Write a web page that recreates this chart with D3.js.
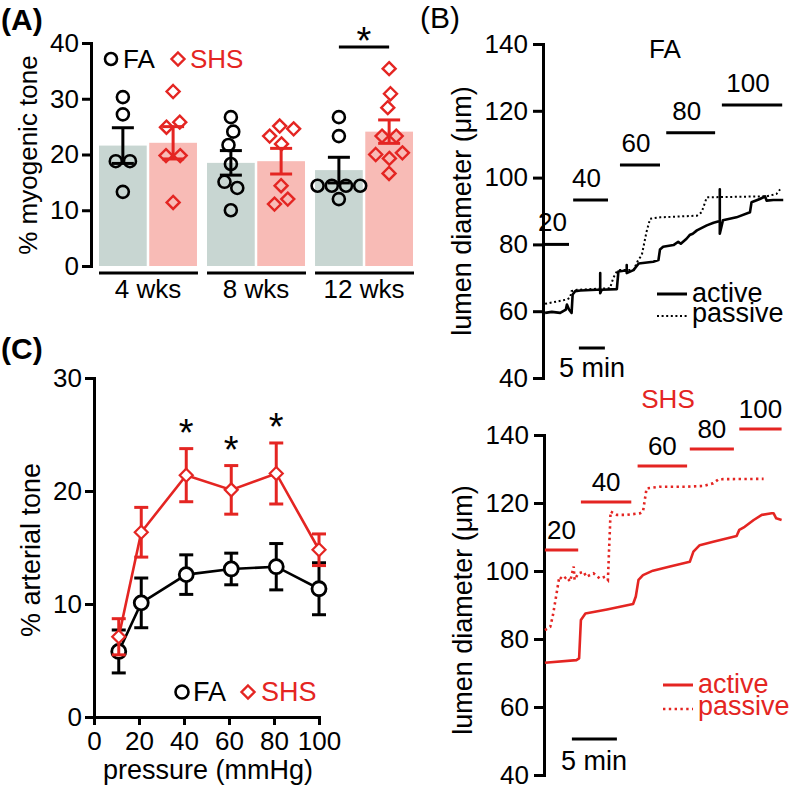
<!DOCTYPE html>
<html><head><meta charset="utf-8">
<script src="https://cdn.jsdelivr.net/npm/d3@7"></script>
<style>body{margin:0;background:#fff}svg{display:block}</style>
</head><body><svg id="c" width="793" height="790"></svg>
<script>
// ---------- DATA ----------
// Panel A
const weeks = ["4 wks", "8 wks", "12 wks"];
const groups = ["FA", "SHS"];
const faMean = [21.6, 18.5, 17.2];
const faSem = [3.2, 2.2, 2.3];
const shsMean = [22.1, 18.8, 24.1];
const shsSem = [2.9, 2.3, 2.1];
const faPoints = [[30.3, 27.2, 18.8, 18.8, 13.3], [26.7, 24.1, 21.7, 18.3, 15.1, 14.0, 10.0], [26.7, 23.3, 14.4, 14.4, 14.4, 14.4, 12.0]];
const shsPoints = [[31.3, 25.8, 24.9, 19.8, 19.8, 11.4], [25.1, 24.6, 23.3, 21.9, 14.4, 12.0, 11.1], [35.4, 30.9, 28.4, 23.3, 23.3, 20.3, 20.0, 19.3, 16.6]];
const toneTicksA = [0, 10, 20, 30, 40];
const sigWeekA = ["12 wks"];

// Panel C
const pressures = [11, 21, 41, 61, 81, 100];
const faTone = [5.8, 10.1, 12.6, 13.1, 13.3, 11.35];
const faToneSem = [1.9, 2.2, 1.75, 1.4, 2.05, 2.3];
const shsTone = [7.1, 16.35, 21.4, 20.1, 21.55, 14.8];
const shsToneSem = [1.6, 2.2, 2.35, 2.15, 2.7, 1.4];
const sigPressC = [41, 61, 81];
const pressTicksC = [0, 20, 40, 60, 80, 100];
const toneTicksC = [0, 10, 20, 30];

// Panel B  ([minutes, lumen diameter µm])
const diamTicks = [40, 60, 80, 100, 120, 140];
const stepLabels = ["20", "40", "60", "80", "100"];
const faStepStart = [0.2, 5.8, 14.8, 23.7, 34.4];
const faStepEnd = [5.0, 12.5, 22.5, 33.1, 46.0];
const faStepLevel = [80, 93.3, 103.8, 113.4, 121.7];
const shsStepStart = [0.1, 4.1, 10.4, 16.2, 21.7];
const shsStepEnd = [3.8, 9.7, 15.9, 21.1, 26.4];
const shsStepLevel = [106.2, 120.3, 130.9, 135.9, 141.8];
const faActive = [[0.4,59.5],[1.7,59.8],[3.3,59.5],[4.4,60.5],[4.6,62],[5.0,60.5],[5.5,59.5],[5.7,65],[6.2,66],[7.2,66.2],[10.3,66.4],[11.0,66.4],[11.0,71.4],[11.0,65.4],[11.3,66.4],[14.2,66.6],[14.5,71.9],[15.5,72.1],[16.1,72.3],[16.1,73.8],[16.1,71.4],[17.4,72.3],[18.4,74.3],[21.2,74.8],[22.2,75.3],[22.5,78.5],[23.1,79.3],[25.1,79.8],[26.0,80.8],[26.5,80.2],[27.6,81.7],[28.2,82.8],[28.8,83.2],[29.6,84.2],[31.5,85.7],[32.8,86.5],[34.0,87],[34.0,96.5],[34.0,83.2],[34.6,87.2],[37.2,88.1],[39.8,89.6],[40.1,92.6],[41.7,93.6],[42.4,94.1],[42.7,94.4],[43.0,93.1],[44.3,93.3],[46.2,93.3]];
const faPassive = [[0.4,62.2],[4.6,63.5],[5.2,64],[5.5,66],[6.5,66.4],[12.9,66.9],[13.5,69.9],[14.2,71.9],[14.8,72.3],[17.4,72.3],[18.3,75.3],[19.0,76.8],[19.9,83.7],[20.6,87.7],[22.5,88.1],[29.6,88.6],[30.5,89.6],[31.5,94.1],[43.0,94.4],[44.9,95.1],[45.6,96.5]];
const shsActive = [[0.1,73.0],[3.6,73.8],[3.9,74.3],[4.1,85.6],[4.6,87.5],[7.0,88.7],[9.9,90.3],[10.2,92.5],[10.5,97.4],[11.0,98.8],[12.1,100.1],[14.0,101.3],[16.2,102.7],[16.6,105.7],[17.3,107.6],[18.8,108.6],[21.4,110.3],[21.7,112.1],[22.3,113.0],[23.3,115],[24.2,116.5],[25.3,117],[25.5,117],[25.8,115.5],[26.4,115.0]];
const shsPassive = [[0.1,82.6],[0.7,83.6],[1.0,87.1],[1.4,93.4],[1.7,98.3],[2.1,97.4],[2.5,98.3],[2.9,96.9],[3.3,101.3],[3.4,97.4],[3.8,99.3],[4.4,99.8],[4.7,98.3],[5.5,99.3],[6.2,97.8],[6.8,98.3],[7.1,97.4],[7.4,117.5],[8.1,116.5],[9.2,116.5],[10.7,117],[11.0,117.5],[11.4,124.3],[12.9,124.8],[15.9,124.8],[17.7,125],[18.8,125.8],[19.4,127],[24.4,127.1]];

// ---------- STYLE ----------
const FONT = "'Liberation Sans', Arial, Helvetica, sans-serif";
const RED = "#e42522";
const FA_BAR = "#c8d6d2";
const SHS_BAR = "#f8bbb6";
const svg = d3.select("#c").attr("font-family", FONT);

function styleAxis(g, fs) {
  g.attr("font-family", FONT).attr("font-size", fs);
  g.select(".domain").attr("stroke", "#000").attr("stroke-width", 3).attr("stroke-linecap", "square");
  g.selectAll(".tick line").attr("stroke", "#000").attr("stroke-width", 3);
  g.selectAll(".tick text").attr("fill", "#000");
}
const diamond = s => `M0,${-s}L${s},0L0,${s}L${-s},0Z`;

function swarm(vals, cx, y, r) {
  const nodes = vals.map((v, i) => ({ v, x: cx + (i % 2 ? 1 : -1) * (0.3 + i * 0.4), y: y(v), fy: y(v) }));
  const sim = d3.forceSimulation(nodes)
    .force("x", d3.forceX(cx).strength(0.06))
    .force("c", d3.forceCollide(r + 0.6).iterations(4)).stop();
  for (let i = 0; i < 400; i++) sim.tick();
  return nodes;
}

// ---------- PANEL A ----------
{
  const yA = d3.scaleLinear().domain([0, 40]).range([266, 43]);
  const x0 = d3.scaleBand().domain(weeks).range([99, 413]).paddingInner(0.093);
  const x1 = d3.scaleBand().domain(groups).range([0, x0.bandwidth()]).paddingInner(0.05);
  const g = svg.append("g");
  const series = [
    { key: "FA", mean: faMean, sem: faSem, pts: faPoints, fill: FA_BAR, col: "#000" },
    { key: "SHS", mean: shsMean, sem: shsSem, pts: shsPoints, fill: SHS_BAR, col: RED }
  ];
  series.forEach(s => {
    weeks.forEach((w, i) => {
      const bx = x0(w) + x1(s.key);
      g.append("rect").attr("x", bx).attr("y", yA(s.mean[i]))
        .attr("width", x1.bandwidth()).attr("height", yA(0) - yA(s.mean[i])).attr("fill", s.fill);
    });
  });
  series.forEach(s => {
    weeks.forEach((w, i) => {
      const cx = x0(w) + x1(s.key) + x1.bandwidth() / 2;
      const nodes = swarm(s.pts[i], cx, yA, 6.5);
      nodes.forEach(n => {
        if (s.key === "FA") g.append("circle").attr("cx", n.x).attr("cy", n.y).attr("r", 6).attr("fill", "none").attr("stroke", "#000").attr("stroke-width", 2.6);
        else g.append("path").attr("d", diamond(6.5)).attr("transform", `translate(${n.x},${n.y})`).attr("fill", "none").attr("stroke", RED).attr("stroke-width", 2.4);
      });
      const lo = yA(s.mean[i] - s.sem[i]), hi = yA(s.mean[i] + s.sem[i]);
      g.append("line").attr("x1", cx).attr("x2", cx).attr("y1", lo).attr("y2", hi).attr("stroke", s.col).attr("stroke-width", 3);
      [lo, hi].forEach(yy => g.append("line").attr("x1", cx - 11).attr("x2", cx + 11).attr("y1", yy).attr("y2", yy).attr("stroke", s.col).attr("stroke-width", 3));
    });
  });
  g.append("g").attr("transform", "translate(91,0)")
    .call(d3.axisLeft(yA).tickValues(toneTicksA).tickSize(9).tickSizeOuter(0).tickPadding(3))
    .call(styleAxis, 26);
  weeks.forEach(w => {
    g.append("line").attr("x1", x0(w)).attr("x2", x0(w) + x0.bandwidth() + 1).attr("y1", 273).attr("y2", 273).attr("stroke", "#000").attr("stroke-width", 3);
    g.append("text").attr("x", x0(w) + x0.bandwidth() / 2).attr("y", 298).attr("text-anchor", "middle").attr("font-size", 26).text(w);
  });
  sigWeekA.forEach(w => {
    const a = x0(w) + x1("FA") + x1.bandwidth() / 2, b = x0(w) + x1("SHS") + x1.bandwidth() / 2;
    g.append("line").attr("x1", a).attr("x2", b).attr("y1", 47).attr("y2", 47).attr("stroke", "#000").attr("stroke-width", 3);
    g.append("text").attr("x", (a + b) / 2).attr("y", 54).attr("text-anchor", "middle").attr("font-size", 38).text("*");
  });
  g.append("text").attr("transform", "translate(37,155) rotate(-90)").attr("text-anchor", "middle").attr("font-size", 26).text("% myogenic tone");
  // legend
  g.append("circle").attr("cx", 111).attr("cy", 59).attr("r", 6).attr("fill", "none").attr("stroke", "#000").attr("stroke-width", 2.6);
  g.append("text").attr("x", 123).attr("y", 68).attr("font-size", 26).text("FA");
  g.append("path").attr("d", diamond(6.5)).attr("transform", "translate(178,59)").attr("fill", "none").attr("stroke", RED).attr("stroke-width", 2.4);
  g.append("text").attr("x", 190).attr("y", 68).attr("font-size", 26).attr("fill", RED).text("SHS");
  g.append("text").attr("x", 1).attr("y", 30).attr("font-size", 30).attr("font-weight", "bold").text("(A)");
}

// ---------- PANEL C ----------
{
  const xC = d3.scaleLinear().domain([0, 100]).range([94, 319]);
  const yC = d3.scaleLinear().domain([0, 30]).range([717, 378]);
  const g = svg.append("g");
  g.append("g").attr("transform", "translate(0,717)")
    .call(d3.axisBottom(xC).tickValues(pressTicksC).tickSize(8).tickSizeOuter(0).tickPadding(7))
    .call(styleAxis, 26);
  g.append("g").attr("transform", "translate(94,0)")
    .call(d3.axisLeft(yC).tickValues(toneTicksC).tickSize(9).tickSizeOuter(0).tickPadding(3))
    .call(styleAxis, 26);
  const line = d3.line().x(d => xC(d[0])).y(d => yC(d[1]));
  const sets = [
    { m: faTone, e: faToneSem, col: "#000", circ: true },
    { m: shsTone, e: shsToneSem, col: RED, circ: false }
  ];
  sets.forEach(s => {
    pressures.forEach((p, i) => {
      const cx = xC(p), lo = yC(s.m[i] - s.e[i]), hi = yC(s.m[i] + s.e[i]);
      g.append("line").attr("x1", cx).attr("x2", cx).attr("y1", lo).attr("y2", hi).attr("stroke", s.col).attr("stroke-width", 3);
      [lo, hi].forEach(yy => g.append("line").attr("x1", cx - 7).attr("x2", cx + 7).attr("y1", yy).attr("y2", yy).attr("stroke", s.col).attr("stroke-width", 3));
    });
    g.append("path").datum(pressures.map((p, i) => [p, s.m[i]])).attr("d", line).attr("fill", "none").attr("stroke", s.col).attr("stroke-width", 2.6);
    pressures.forEach((p, i) => {
      if (s.circ) g.append("circle").attr("cx", xC(p)).attr("cy", yC(s.m[i])).attr("r", 7).attr("fill", "#fff").attr("stroke", "#000").attr("stroke-width", 2.8);
      else g.append("path").attr("d", diamond(6.5)).attr("transform", `translate(${xC(p)},${yC(s.m[i])})`).attr("fill", "#fff").attr("stroke", RED).attr("stroke-width", 2.2);
    });
  });
  sigPressC.forEach(p => {
    const i = pressures.indexOf(p);
    g.append("text").attr("x", xC(p)).attr("y", yC(shsTone[i] + shsToneSem[i]) - 3).attr("text-anchor", "middle").attr("font-size", 38).text("*");
  });
  g.append("text").attr("x", 208).attr("y", 779).attr("text-anchor", "middle").attr("font-size", 27).text("pressure (mmHg)");
  g.append("text").attr("transform", "translate(40,550) rotate(-90)").attr("text-anchor", "middle").attr("font-size", 27).text("% arterial tone");
  g.append("circle").attr("cx", 182).attr("cy", 692).attr("r", 6.5).attr("fill", "none").attr("stroke", "#000").attr("stroke-width", 2.6);
  g.append("text").attr("x", 193).attr("y", 701).attr("font-size", 27).text("FA");
  g.append("path").attr("d", diamond(6.5)).attr("transform", "translate(248,692)").attr("fill", "none").attr("stroke", RED).attr("stroke-width", 2.4);
  g.append("text").attr("x", 261).attr("y", 701).attr("font-size", 27).attr("fill", RED).text("SHS");
  g.append("text").attr("x", 1).attr("y", 359).attr("font-size", 30).attr("font-weight", "bold").text("(C)");
}

// ---------- PANEL B ----------
function tracePanel(opt) {
  const g = svg.append("g");
  const x = d3.scaleLinear().domain(opt.tDom).range(opt.xRange);
  const y = d3.scaleLinear().domain([40, 140]).range(opt.yRange);
  g.append("g").attr("transform", `translate(${opt.xRange[0]},0)`)
    .call(d3.axisLeft(y).tickValues(diamTicks).tickSize(10).tickSizeOuter(0).tickPadding(5))
    .call(styleAxis, 26);
  const line = d3.line().x(d => x(d[0])).y(d => y(d[1]));
  g.append("path").datum(opt.passive).attr("d", line).attr("fill", "none").attr("stroke", opt.col).attr("stroke-width", opt.dotW).attr("stroke-dasharray", opt.dash);
  g.append("path").datum(opt.active).attr("d", line).attr("fill", "none").attr("stroke", opt.col).attr("stroke-width", 2.6).attr("stroke-linejoin", "round");
  stepLabels.forEach((lab, i) => {
    const a = x(opt.s0[i]), b = x(opt.s1[i]), yy = y(opt.lvl[i]);
    g.append("line").attr("x1", a).attr("x2", b).attr("y1", yy).attr("y2", yy).attr("stroke", opt.col).attr("stroke-width", 3);
    g.append("text").attr("x", (a + b) / 2 + opt.labDx).attr("y", yy - opt.labGap).attr("text-anchor", "middle").attr("font-size", 26).text(lab);
  });
  g.append("text").attr("x", opt.titleX).attr("y", opt.titleY).attr("text-anchor", "middle").attr("font-size", 26).attr("fill", opt.col).text(opt.title);
  // scale bar (5 min)
  g.append("line").attr("x1", x(opt.barT)).attr("x2", x(opt.barT + 5)).attr("y1", opt.barY).attr("y2", opt.barY).attr("stroke", "#000").attr("stroke-width", 3);
  g.append("text").attr("x", opt.barTextX).attr("y", opt.barTextY).attr("text-anchor", "middle").attr("font-size", 27).text("5 min");
  // legend
  g.append("line").attr("x1", opt.legX).attr("x2", opt.legX + 30).attr("y1", opt.legY).attr("y2", opt.legY).attr("stroke", opt.col).attr("stroke-width", 3);
  g.append("text").attr("x", opt.legX + 35).attr("y", opt.legY + 8).attr("font-size", 27).attr("fill", opt.col).text("active");
  g.append("line").attr("x1", opt.legX).attr("x2", opt.legX + 30).attr("y1", opt.legY + opt.legDy).attr("y2", opt.legY + opt.legDy).attr("stroke", opt.col).attr("stroke-width", opt.dotW).attr("stroke-dasharray", opt.dash);
  g.append("text").attr("x", opt.legX + 35).attr("y", opt.legY + opt.legDy + 6).attr("font-size", 27).attr("fill", opt.col).text("passive");
  g.append("text").attr("transform", `translate(${opt.titleAxisX},${opt.titleAxisY}) rotate(-90)`).attr("text-anchor", "middle").attr("font-size", 27).text("lumen diameter (μm)");
}
tracePanel({
  tDom: [0, 46], xRange: [543, 782.2], yRange: [378, 44], col: "#000", dotW: 2, dash: "2,2.6",
  active: faActive, passive: faPassive, s0: faStepStart, s1: faStepEnd, lvl: faStepLevel, labDx: -4, labGap: 13,
  title: "FA", titleX: 665, titleY: 58, barT: 6.9, barY: 348, barTextX: 592, barTextY: 377,
  legX: 657, legY: 294, legDy: 22, titleAxisX: 471, titleAxisY: 211
});
tracePanel({
  tDom: [0, 26.4], xRange: [544, 781.6], yRange: [775, 435], col: RED, dotW: 2.6, dash: "2.4,3.4",
  active: shsActive, passive: shsPassive, s0: shsStepStart, s1: shsStepEnd, lvl: shsStepLevel, labDx: 0, labGap: 11,
  title: "SHS", titleX: 668, titleY: 408, barT: 3.1, barY: 739, barTextX: 594, barTextY: 770,
  legX: 663, legY: 685, legDy: 24, titleAxisX: 472, titleAxisY: 610
});
svg.append("text").attr("x", 420).attr("y", 28).attr("font-size", 30).text("(B)");
</script></body></html>
